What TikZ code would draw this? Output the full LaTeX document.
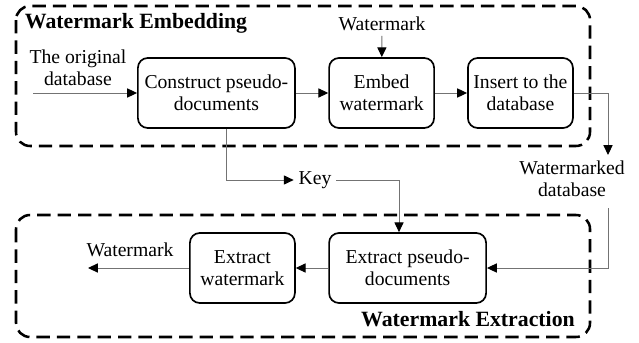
\documentclass[tikz,border=0pt]{standalone}
\usepackage{fontspec}
\setmainfont{Liberation Serif}
\usetikzlibrary{arrows.meta}
\begin{document}
\begin{tikzpicture}[>={Triangle[length=7pt,width=6.5pt,color=black]},scale=1,
	  font=\fontsize{14}{15.5}\selectfont,
	  proc/.style={draw,line width=1.2pt,rounded corners=7pt,minimum height=1.75cm,align=center,inner sep=1pt},
	  group/.style={line width=1.8pt,dash pattern=on 9.5pt off 5pt,rounded corners=10pt},
	  conn/.style={->,draw=black!55,line width=0.7pt},
	  title/.style={font=\fontsize{15.5}{17}\selectfont\bfseries}]
	  \useasboundingbox (0,0) rectangle (15.975,-8.55);
	  % groups
	  \draw[group] (0.4,-0.15) rectangle (14.75,-3.65);
	  \draw[group] (0.4,-5.375) rectangle (14.75,-8.425);
	  \node[title,anchor=west] (tembed) at (0.5,-0.575) {Watermark Embedding};
	  \node[title] (textract) at (11.7,-7.975) {Watermark Extraction};
	  % embedding
	  \node[proc,minimum width=3.925cm] (cons) at (5.41,-2.325) {Construct pseudo-\\documents};
	  \node[proc,minimum width=2.625cm] (embed) at (9.54,-2.325) {Embed\\watermark};
	  \node[proc,minimum width=2.625cm] (insert) at (13.01,-2.325) {Insert to the\\database};
	  \node[align=center] (orig) at (1.95,-1.7) {The original\\database};
	  \node (wmin) at (9.55,-0.6) {Watermark};
	  \coordinate (src) at (0.825,-2.325);
	  % extraction
	  \node[proc,minimum width=3.925cm] (expd) at (10.19,-6.7) {Extract pseudo-\\documents};
	  \node[proc,minimum width=2.625cm] (exwm) at (6.06,-6.7) {Extract\\watermark};
	  \node (wmout) at (3.25,-6.25) {Watermark};
	  \coordinate (sink) at (2.2,-6.7);
	  \node (key) at (7.875,-4.5) {Key};
	  \node[align=center] (wdb) at (14.3,-4.475) {Watermarked\\database};
	  \coordinate (wtop) at (15.2,-3.875);
	  \coordinate (wbot) at (15.2,-5.2);
	  % connectors
	  \draw[conn] (src) -- (cons);
	  \draw[conn] (cons) -- (embed);
	  \draw[conn] (embed) -- (insert);
	  \draw[conn] (wmin) -- (embed);
	  \draw[conn] (insert.east) -| (wtop);
	  \draw[conn] (wbot) |- (expd.east);
	  \draw[conn] (cons.south -| 5.65,0) |- (key.west);
	  \draw[conn] (key.east) -| (expd.north -| 9.975,0);
	  \draw[conn] (expd) -- (exwm);
	  \draw[conn] (exwm) -- (sink);
\end{tikzpicture}
\end{document}
